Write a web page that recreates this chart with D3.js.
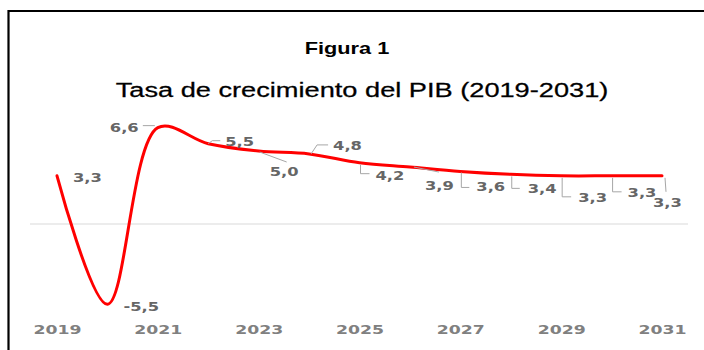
<!DOCTYPE html>
<html>
<head>
<meta charset="utf-8">
<script src="https://cdn.jsdelivr.net/npm/d3@7"></script>
<style>
  html, body { margin: 0; padding: 0; background: #fff; }
  svg { display: block; }
</style>
</head>
<body>
<svg id="chart" width="704" height="350"></svg>
<script>
// Annual GDP growth, %
const years = [2019, 2020, 2021, 2022, 2023, 2024, 2025, 2026, 2027, 2028, 2029, 2030, 2031];
const growth = [3.3, -5.5, 6.6, 5.5, 5.0, 4.8, 4.2, 3.9, 3.6, 3.4, 3.3, 3.3, 3.3];
const tickYears = [2019, 2021, 2023, 2025, 2027, 2029, 2031];
const titleText = "Figura 1";
const subtitleText = "Tasa de crecimiento del PIB (2019-2031)";

const W = 704, H = 350;
const STRETCH = 1.36;  // wide lettering
const svg = d3.select("#chart");

// frame (top and left rule)
svg.append("path")
  .attr("d", `M8.5,350 V11 H704`)
  .attr("fill", "none").attr("stroke", "#000").attr("stroke-width", 2.2);

function wideText(sel, x, y, anchor) {
  return sel.append("text")
    .attr("transform", `translate(${x},${y}) scale(${STRETCH},1)`)
    .attr("text-anchor", anchor);
}

wideText(svg, 347, 54, "middle")
  .attr("font-family", "Liberation Sans, Arial, sans-serif")
  .attr("font-weight", "bold").attr("font-size", 16).attr("fill", "#000")
  .text(titleText);

wideText(svg, 362, 97, "middle")
  .attr("font-family", "Liberation Sans, Arial, sans-serif")
  .attr("font-size", 20).attr("fill", "#000")
  .attr("stroke", "#000").attr("stroke-width", 0.25)
  .text(subtitleText);

const x = d3.scaleLinear().domain([2019, 2031]).range([57, 662]);
const y = d3.scaleLinear().domain([0, 6.6]).range([224, 224 - 14.6 * 6.6]);

// zero line
svg.append("line")
  .attr("x1", 30).attr("x2", 688)
  .attr("y1", y(0)).attr("y2", y(0))
  .attr("stroke", "#d9d9d9").attr("stroke-width", 1);

// x axis labels, widened about their own tick
const axis = d3.axisBottom(x).tickValues(tickYears).tickFormat(d3.format("d")).tickSize(0);
const gAxis = svg.append("g").attr("transform", `translate(0,334)`).call(axis);
gAxis.select(".domain").remove();
gAxis.selectAll(".tick text")
  .attr("x", 0).attr("y", 0).attr("dy", 0)
  .attr("font-family", "DejaVu Sans, Verdana, sans-serif")
  .attr("font-weight", "bold")
  .attr("font-size", 12.7).attr("fill", "#808080")
  .attr("transform", `scale(${STRETCH},1)`);

// line
const pts = years.map((yr, i) => [x(yr), y(growth[i])]);
svg.append("path")
  .attr("d", d3.line().curve(d3.curveCatmullRom.alpha(0.5))(pts))
  .attr("fill", "none").attr("stroke", "#ff0000").attr("stroke-width", 3)
  .attr("stroke-linejoin", "round").attr("stroke-linecap", "round");

// data label placement: text start offset and leader polyline, relative to each point
const labelLayout = [
  { dx: 16, dy: 6, leader: null },
  { dx: 16, dy: 7, leader: null },
  { dx: -48, dy: 4, leader: [[-15, -2], [-3, -2]] },
  { dx: 17, dy: 2, leader: [[0, 0], [4, -3], [12, -3]] },
  { dx: 11, dy: 25, leader: [[1, 1], [28, 11]] },
  { dx: 24, dy: -4, leader: [[2, 0], [8, -9], [19, -9]] },
  { dx: 16, dy: 17, leader: [[1, 2], [1, 11], [10, 11]] },
  { dx: 15, dy: 23, leader: [[4, 0], [29, 5]] },
  { dx: 16, dy: 20, leader: [[1, 1], [1, 16], [9, 16]] },
  { dx: 17, dy: 19, leader: [[1, 2], [1, 14], [9, 14]] },
  { dx: 17, dy: 26, leader: [[1, 2], [1, 21], [10, 21]] },
  { dx: 16, dy: 21, leader: [[1, 2], [1, 16], [10, 16]] },
  { dx: -9, dy: 31, leader: [[3, 2], [4, 16]] }
];

const fmt = v => d3.format(".1f")(v).replace(".", ",").replace("−", "-");
const gLab = svg.append("g");
years.forEach((yr, i) => {
  const [px, py] = pts[i];
  const L = labelLayout[i];
  if (L.leader) {
    gLab.append("path")
      .attr("d", d3.line()(L.leader.map(([a, b]) => [px + a, py + b])))
      .attr("fill", "none").attr("stroke", "#a6a6a6").attr("stroke-width", 1);
  }
  wideText(gLab, px + L.dx, py + L.dy, "start")
    .attr("font-family", "DejaVu Sans, Verdana, sans-serif")
    .attr("font-weight", "bold")
    .attr("font-size", 12).attr("fill", "#666666")
    .text(fmt(growth[i]));
});
</script>
</body>
</html>
